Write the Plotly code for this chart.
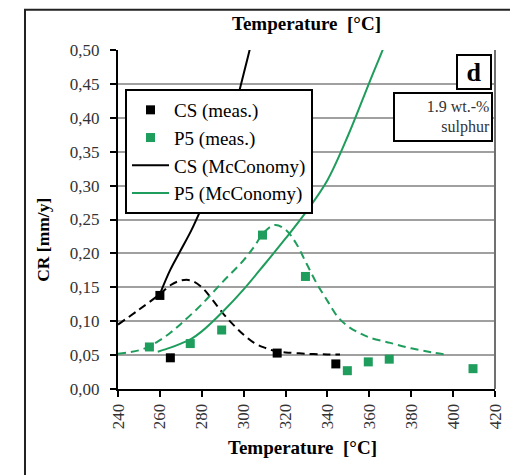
import plotly.graph_objects as go

# ---------------- data ----------------
cs_meas_x = [260, 265, 316, 344]
cs_meas_y = [0.138, 0.046, 0.053, 0.037]

p5_meas_x = [255, 274.5, 289.5, 309, 329.5, 349.5, 359.5, 369.5, 409.5]
p5_meas_y = [0.062, 0.067, 0.087, 0.227, 0.166, 0.027, 0.040, 0.044, 0.030]

cs_mcc_x = [260, 265, 270, 275, 280, 285, 290, 295, 300, 303, 306]
cs_mcc_y = [0.140, 0.176, 0.205, 0.234, 0.268, 0.305, 0.350, 0.404, 0.465, 0.502, 0.540]

p5_mcc_x = [259, 265, 270, 275, 280, 290, 300, 310, 320, 330, 340, 350, 360, 367, 370]
p5_mcc_y = [0.055, 0.061, 0.067, 0.074, 0.085, 0.114, 0.147, 0.184, 0.222, 0.262, 0.308, 0.375, 0.452, 0.505, 0.53]

cs_fit_x = [240, 250, 260, 265, 270, 275, 280, 285, 290, 295, 300, 305, 310, 315, 320, 330, 340, 346]
cs_fit_y = [0.095, 0.117, 0.140, 0.153, 0.160, 0.160, 0.150, 0.132, 0.112, 0.095, 0.080, 0.068, 0.061, 0.056, 0.054, 0.052, 0.051, 0.051]

p5_fit_x = [240, 250, 255, 260, 265, 270, 280, 290, 300, 305, 310, 315, 320, 325, 330, 335, 340, 345, 350, 355, 360, 370, 380, 390, 398]
p5_fit_y = [0.052, 0.057, 0.063, 0.072, 0.083, 0.096, 0.125, 0.158, 0.190, 0.210, 0.232, 0.242, 0.235, 0.215, 0.185, 0.155, 0.130, 0.106, 0.092, 0.083, 0.076, 0.068, 0.060, 0.054, 0.050]

x_ticks = [240, 260, 280, 300, 320, 340, 360, 380, 400, 420]
x_tick_labels = ["240", "260", "280", "300", "320", "340", "360", "380", "400", "420"]
y_ticks = [0.0, 0.05, 0.10, 0.15, 0.20, 0.25, 0.30, 0.35, 0.40, 0.45, 0.50]
y_tick_labels = ["0,00", "0,05", "0,10", "0,15", "0,20", "0,25", "0,30", "0,35", "0,40", "0,45", "0,50"]

# ---------------- style ----------------
GREEN = "#1f9d5c"
FONT = "Liberation Serif, Times New Roman, DejaVu Serif, serif"
GRID = "#a0a0a0"

fig = go.Figure()

fig.add_trace(go.Scatter(x=cs_fit_x, y=cs_fit_y, mode="lines", showlegend=False,
                         line=dict(color="black", width=2, dash="8px,5px"), line_shape="spline"))
fig.add_trace(go.Scatter(x=p5_fit_x, y=p5_fit_y, mode="lines", showlegend=False,
                         line=dict(color=GREEN, width=2, dash="8px,5px"), line_shape="spline"))

fig.add_trace(go.Scatter(x=cs_meas_x, y=cs_meas_y, mode="markers", name="CS (meas.)",
                         legendgroup="a",
                         marker=dict(symbol="square", size=9, color="black")))
fig.add_trace(go.Scatter(x=p5_meas_x, y=p5_meas_y, mode="markers", name="P5 (meas.)",
                         legendgroup="b",
                         marker=dict(symbol="square", size=9, color=GREEN)))
fig.add_trace(go.Scatter(x=cs_mcc_x, y=cs_mcc_y, mode="lines", name="CS (McConomy)",
                         legendgroup="c",
                         line=dict(color="black", width=2), line_shape="spline"))
fig.add_trace(go.Scatter(x=p5_mcc_x, y=p5_mcc_y, mode="lines", name="P5 (McConomy)",
                         legendgroup="d",
                         line=dict(color=GREEN, width=2), line_shape="spline"))

fig.update_layout(
    width=510, height=467,
    margin=dict(l=110, r=23, t=42, b=86),
    paper_bgcolor="white", plot_bgcolor="white",
    font=dict(family=FONT, color="black"),
    showlegend=True,
    legend=dict(x=0.0186, y=0.885, xanchor="left", yanchor="top",
                bgcolor="white", bordercolor="black", borderwidth=2,
                font=dict(family=FONT, size=19, color="black"),
                itemwidth=37, tracegroupgap=0, traceorder="normal"),
    xaxis=dict(range=[240, 420], tickvals=x_ticks, ticktext=x_tick_labels,
               tickangle=-90, ticks="outside", ticklen=6, tickwidth=2, tickcolor="black",
               showline=True, linecolor="black", linewidth=2, showgrid=False, zeroline=False,
               tickfont=dict(family=FONT, size=17, color="#333")),
    yaxis=dict(range=[0, 0.5], tickvals=y_ticks, ticktext=y_tick_labels,
               ticks="outside", ticklen=6, tickwidth=2, tickcolor="black",
               ticklabelstandoff=7,
               showline=True, linecolor="black", linewidth=2,
               showgrid=True, gridcolor=GRID, gridwidth=2, zeroline=False,
               tickfont=dict(family=FONT, size=17, color="#333")),
    shapes=[
        dict(type="line", xref="paper", yref="paper", x0=1, x1=1, y0=0, y1=1,
             line=dict(color="#707070", width=2)),
        dict(type="rect", xref="paper", yref="paper", x0=-0.2467, x1=1.09, y0=-0.3, y1=1.119,
             line=dict(color="#222", width=2)),
    ],
    annotations=[
        dict(text="<b>Temperature  [°C]</b>", xref="paper", yref="paper", x=0.5, y=1.0796,
             xanchor="center", yanchor="middle", showarrow=False,
             font=dict(family=FONT, size=19)),
        dict(text="<b>Temperature  [°C]</b>", xref="paper", yref="paper", x=0.49, y=-0.174,
             xanchor="center", yanchor="middle", showarrow=False,
             font=dict(family=FONT, size=19)),
        dict(text="<b>CR [mm/y]</b>", xref="paper", yref="paper", x=-0.199, y=0.44,
             xanchor="center", yanchor="middle", textangle=-90, showarrow=False,
             font=dict(family=FONT, size=17.5)),
        dict(text="<b>d</b>", xref="paper", yref="paper", x=0.945, y=0.935,
             xanchor="center", yanchor="middle", showarrow=False,
             width=30, height=30, bgcolor="white", bordercolor="black", borderwidth=2,
             font=dict(family=FONT, size=26)),
        dict(text="1.9 wt.-%<br>sulphur", xref="paper", yref="paper", x=0.862, y=0.802,
             xanchor="center", yanchor="middle", showarrow=False, align="right",
             width=94, height=44, bgcolor="white", bordercolor="black", borderwidth=2,
             font=dict(family=FONT, size=16, color="#333")),
    ],
)

fig.write_html("out.html")
